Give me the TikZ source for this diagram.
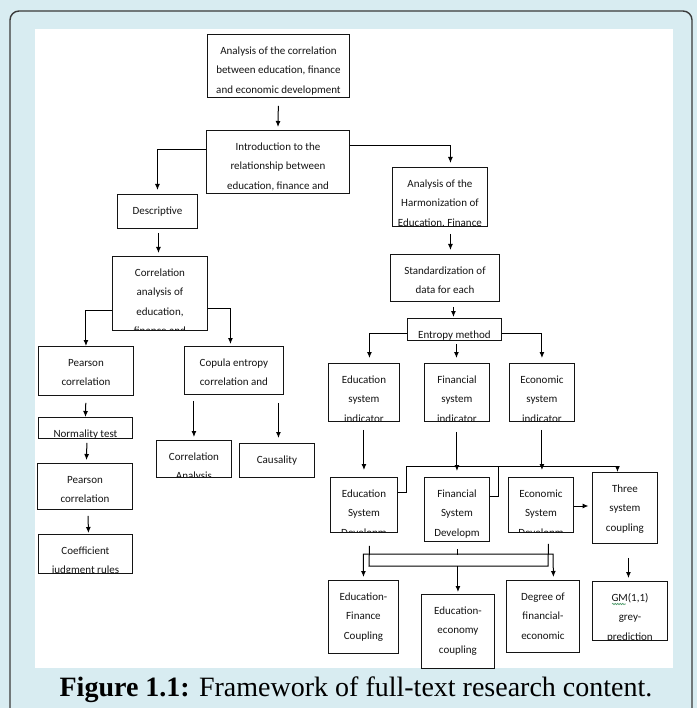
\documentclass[tikz,border=0pt]{standalone}
\usepackage{fontspec}
\usepackage{tikz}
\usetikzlibrary{arrows.meta}
\usetikzlibrary{decorations.pathmorphing}
\setmainfont{Carlito}
\newfontfamily\capfont{Liberation Serif}
\newcommand{\boxfont}{\fontsize{11}{19.3}\selectfont}
\definecolor{paleblue}{HTML}{D8ECF1}
\definecolor{framegray}{HTML}{3A3A3A}
\definecolor{inkgray}{HTML}{141414}
\definecolor{squiggle}{HTML}{4E9A6A}
\tikzset {
  x=1pt, y=-1pt,
  % framework boxes
  box/.style = {draw=inkgray, line width=0.9pt, inner sep=0pt, anchor=north west},
  % box text, cut off at the box border
  txt/.style = {path picture={\node[anchor=base, inner sep=0pt, text=inkgray]
      at ([yshift=-20pt]path picture bounding box.north)
      {\parbox[t]{200pt}{\centering\boxfont #1}};}},
  % connectors
  arr/.style = {-{Latex[length=6pt,width=5pt]}, line width=1pt, draw=black},
  plain/.style = {line width=1pt, draw=black},
}

\begin{document}
\begin{tikzpicture}
      \useasboundingbox (0,0) rectangle (697,708);
      \fill[paleblue] (0,0) rectangle (697,708);
      \draw[framegray, line width=1.4pt, rounded corners=9pt] (10,11) rectangle (692,740);
      \fill[white] (35,29) rectangle (673,668);

      % top of the framework
      \node[box, minimum width=142pt, minimum height=63pt,
        txt={Analysis of the correlation\\between education, finance\\and economic development}] (goal) at (207,34) {};
      \node[box, minimum width=143pt, minimum height=63pt,
        txt={Introduction to the\\relationship between\\education, finance and}] (intro) at (206,130) {};

      % left branch
      \node[box, minimum width=80pt, minimum height=34pt, txt={Descriptive}] (desc) at (117,194) {};
      \node[box, minimum width=95pt, minimum height=74pt,
        txt={Correlation\\analysis of\\education,\\finance and}] (corr) at (112,256) {};
      \node[box, minimum width=95pt, minimum height=49pt, txt={Pearson\\correlation}] (pearson) at (38,346) {};
      \node[box, minimum width=99pt, minimum height=48pt,
        txt={Copula entropy\\correlation and}] (copula) at (184,346) {};
      \node[box, minimum width=94pt, minimum height=21pt, txt={Normality test}] (normal) at (38,417) {};
      \node[box, minimum width=95pt, minimum height=46pt, txt={Pearson\\correlation}] (pearsonb) at (37,463) {};
      \node[box, minimum width=94pt, minimum height=39pt, txt={Coefficient\\judgment rules}] (coeff) at (38,534) {};
      \node[box, minimum width=75pt, minimum height=37pt, txt={Correlation\\Analysis}] (corrana) at (156,440) {};
      \node[box, minimum width=75pt, minimum height=34pt, txt={Causality}] (causal) at (239,443) {};

      % right branch
      \node[box, minimum width=95pt, minimum height=59pt,
        txt={Analysis of the\\Harmonization of\\Education, Finance}] (harmon) at (392,167) {};
      \node[box, minimum width=109pt, minimum height=47pt,
        txt={Standardization of\\data for each}] (stand) at (390,254) {};
      \node[box, minimum width=94pt, minimum height=22pt, txt={Entropy method}] (entropy) at (407,318) {};
      \node[box, minimum width=71pt, minimum height=58pt, txt={Education\\system\\indicator}] (eduind) at (328,363) {};
      \node[box, minimum width=65pt, minimum height=58pt, txt={Financial\\system\\indicator}] (finind) at (424,363) {};
      \node[box, minimum width=65pt, minimum height=58pt, txt={Economic\\system\\indicator}] (ecoind) at (509,363) {};
      \node[box, minimum width=67pt, minimum height=55pt, txt={Education\\System\\Developm}] (edusys) at (330,477) {};
      \node[box, minimum width=65pt, minimum height=64pt, txt={Financial\\System\\Developm}] (finsys) at (424,477) {};
      \node[box, minimum width=65pt, minimum height=55pt, txt={Economic\\System\\Developm}] (ecosys) at (508,477) {};
      \node[box, minimum width=65pt, minimum height=71pt, txt={Three\\system\\coupling}] (three) at (592,472) {};
      \node[box, minimum width=70pt, minimum height=73pt, txt={Education-\\Finance\\Coupling}] (edufin) at (328,580) {};
      \node[box, minimum width=73pt, minimum height=74pt, txt={Education-\\economy\\coupling}] (edueco) at (421,594) {};
      \node[box, minimum width=73pt, minimum height=72pt, txt={Degree of\\financial-\\economic}] (fineco) at (506,580) {};
      \node[box, minimum width=75pt, minimum height=59pt, txt={GM(1,1)\\grey-\\prediction}] (gm) at (592,581) {};

      % caption
      \node[text=black, font=\capfont\fontsize{28}{32}\selectfont] (caption) at (356,690)
        {\textbf{Figure 1.1:} Framework of full-text research content.};

      % connectors, left branch
      \draw[arr, shorten <=8pt, shorten >=3pt] (goal.south) -- (intro.north);
      \draw[arr, shorten >=4pt] ([yshift=-20pt]intro.north west) -| (desc.north);
      \draw[arr, shorten >=4pt] ([yshift=-16pt]intro.north east) -| ([xshift=10.5pt]harmon.north);
      \draw[arr, shorten <=4pt, shorten >=3pt] ([xshift=1pt]desc.south) -- ([xshift=-1.5pt]corr.north);
      \draw[arr] ([yshift=-54pt]corr.north west) -| (pearson.north);
      \draw[arr, shorten >=2pt] ([yshift=-52pt]corr.north east) -| ([xshift=-3.5pt]copula.north);
      \draw[arr, shorten <=7pt] (pearson.south) -- (normal.north);
      \draw[arr, shorten <=4pt, shorten >=3pt] ([xshift=1.5pt]normal.south) -- ([xshift=1.5pt]pearsonb.north);
      \draw[arr, shorten <=6pt, shorten >=1pt] ([xshift=3pt]pearsonb.south) -- ([xshift=3pt]coeff.north);
      \draw[arr, shorten <=6pt, shorten >=3pt] (corrana.north |- copula.south) -- (corrana.north);
      \draw[arr, shorten <=8pt, shorten >=5pt] ([xshift=1.5pt]causal.north |- copula.south) -- ([xshift=1.5pt]causal.north);

      % connectors, right branch
      \draw[arr, shorten <=7pt, shorten >=4pt] ([xshift=10.5pt]harmon.south) -- ([xshift=5.5pt]stand.north);
      \draw[arr, shorten <=5pt, shorten >=1pt] ([xshift=8.5pt]stand.south) -- ([xshift=-1pt]entropy.north);
      \draw[arr, shorten >=5pt] ([yshift=-15pt]entropy.north west) -| ([xshift=5.5pt]eduind.north);
      \draw[arr, shorten <=3pt, shorten >=5pt] ([xshift=2pt]entropy.south) -- ([xshift=-0.5pt]finind.north);
      \draw[arr, shorten >=5pt] ([yshift=-15pt]entropy.north east) -| (ecoind.north);
      \draw[arr, shorten <=8pt, shorten >=7pt] (eduind.south) -- (edusys.north);
      \draw[arr, shorten <=10pt, shorten >=6pt] (finind.south) -- (finsys.north);
      \draw[arr, shorten <=8pt, shorten >=7pt] (ecoind.south) -- ([xshift=1pt]ecosys.north);
      \draw[arr] ([yshift=-15pt]edusys.north east) -- ++(9,0) |- ([xshift=-7.5pt,yshift=6pt]three.north)
        -- ([xshift=-7.5pt]three.north);
      \draw[plain] ([yshift=-19pt]finsys.north east) -- ++(9,0) -- ++(0,-29);
      \draw[arr, shorten >=3.5pt] ([yshift=-29pt]ecosys.north east) -- ([yshift=-34pt]three.north west);
      \draw[arr, shorten <=14pt, shorten >=3pt] ([xshift=3.5pt]three.south) -- ([xshift=-1.5pt]gm.north);

      % coupling buses
      \coordinate (lowl) at (369,566);
      \coordinate (lowr) at (548,566);
      \coordinate (upr) at (553,554);
      \draw[plain] ([xshift=5.5pt,yshift=-13pt]edusys.south) -- (lowl) -- (lowr)
        -- ([xshift=7.5pt,yshift=-11pt]ecosys.south);
      \draw[arr, {Latex[length=6pt,width=5pt]}-{Latex[length=6pt,width=5pt]}, shorten <=3pt, shorten >=3pt]
        (edufin.north) |- (upr) -- ([xshift=10.5pt]fineco.north);
      \draw[plain] ([xshift=0.5pt,yshift=-7pt]finsys.south) -- ++(0,6);
      \draw[arr, shorten >=2pt] (lowl -| edueco.north) -- (edueco.north);

      % spell-check mark under GM
      \draw[squiggle, line width=0.6pt, decorate, decoration={snake, amplitude=0.7pt, segment length=2.5pt}]
        ([xshift=-18pt,yshift=-23pt]gm.north) -- ++(14,0);
\end{tikzpicture}
\end{document}
